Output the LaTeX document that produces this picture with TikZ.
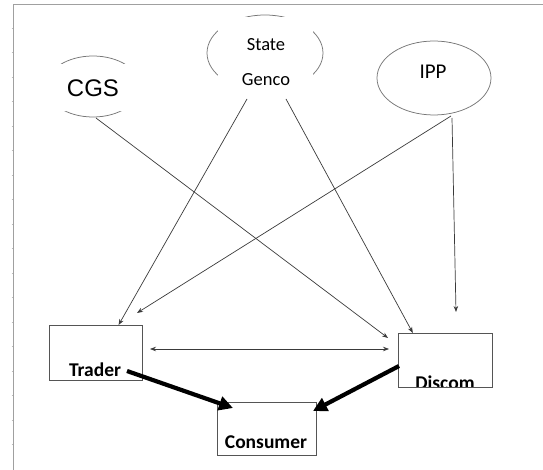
\documentclass[tikz,border=0pt]{standalone}
\usepackage{fontspec}
\setmainfont{Carlito}
\newfontfamily\cgsfont{Liberation Sans}
\usetikzlibrary{arrows.meta,shapes.geometric}
\definecolor{framegray}{HTML}{A0A0A0}
\definecolor{edgegray}{HTML}{555555}
\definecolor{ovalgray}{HTML}{777777}
\definecolor{wiregray}{HTML}{3A3A3A}
\tikzset{
  flowbox/.style={draw=edgegray, line width=0.9pt, fill=white, inner sep=0pt, outer sep=0pt},
  oval/.style={ellipse, draw=ovalgray, line width=0.75pt, inner sep=0pt, outer sep=0pt},
  cover/.style={fill=white, draw=none},
  ovallabel/.style={font=\fontsize{18.5}{20}\selectfont, inner sep=0pt},
  boxlabel/.style={anchor=base, font=\bfseries\fontsize{19.5}{21}\selectfont, inner sep=0pt},
  thinlink/.style={draw=wiregray, line width=0.7pt, -{Stealth[length=6pt,width=4.5pt]}},
  twolink/.style={draw=wiregray, line width=0.7pt, {Stealth[length=6pt,width=4.5pt]}-{Stealth[length=6pt,width=4.5pt]}},
  heavylink/.style={draw=black, line width=4.2pt, -{Triangle[length=14pt,width=14pt]}},
}
\begin{document}
\begin{tikzpicture}[x=1pt,y=-1pt]
\useasboundingbox (0,0) rectangle (543,470);

% page frame with its small ruler ticks
\draw[framegray, line width=1pt] (13,470) -- (13,5) -- (543,5);
\foreach \t in {28,52.5,...,460} \draw[framegray!70, line width=0.4pt] (11.5,\t) -- (13,\t);

% generators: ellipses partly hidden behind their white text boxes
\node[oval, minimum width=94pt, minimum height=61pt] (cgs) at (93,86.5) {};
\fill[cover] (40,64) rectangle (146,111);
\node[font=\cgsfont\fontsize{24}{26}\selectfont, inner sep=0pt] (cgslabel) at (93,88) {CGS};

\node[oval, minimum width=116pt, minimum height=76pt] (genco) at (265,53) {};
\fill[cover] (218,17) rectangle (313,97);
\node[ovallabel] (statelabel) at (266,45) {State};
\node[ovallabel] (gencolabel) at (266,80) {Genco};

\node[oval, minimum width=114pt, minimum height=74pt] (ipp) at (434,78) {};
\node[ovallabel, font=\fontsize{21}{23}\selectfont] (ipplabel) at (433,72) {IPP};

% buyers
\node[flowbox, minimum width=93pt, minimum height=55pt] (trader) at (95.5,352.5) {};
\node[boxlabel] (traderlabel) at (95,376) {Trader};

\node[flowbox, minimum width=94pt, minimum height=54pt] (discom) at (445,360) {};
\begin{scope}
  \clip (398.5,333.5) rectangle (491.5,386.5);
  \node[boxlabel] (discomlabel) at (445,389.5) {Discom};
\end{scope}

\node[flowbox, minimum width=99pt, minimum height=53pt] (consumer) at (266.5,428.5) {};
\node[boxlabel] (consumerlabel) at (266,448) {Consumer};

% connector ends
\coordinate (cgsfoot) at (96,118);
\coordinate (gencofootL) at (247,99);
\coordinate (gencofootR) at (286,99);
\coordinate (ippfoot) at (451,116);
\coordinate (ippfootR) at (452,118);
\coordinate (tradernear) at (137,313);
\coordinate (discomnear) at (388,338);
\coordinate (discomabove) at (456,312);
\coordinate (tradeside) at (150,349);
\coordinate (discomside) at (389,349);
\coordinate (traderout) at (127,371);
\coordinate (discomout) at (399,366);
\coordinate (consumerL) at (233,408);
\coordinate (consumerR) at (313,411);

% supply flows
\draw[thinlink] (cgsfoot) -- (discomnear);
\draw[thinlink] (gencofootL) -- (trader.50.7);
\draw[thinlink] (gencofootR) -- (discom.140.7);
\draw[thinlink] (ippfoot) -- (tradernear);
\draw[thinlink] (ippfootR) -- (discomabove);
\draw[twolink] (tradeside) -- (discomside);

% retail flows
\draw[heavylink] (traderout) -- (consumerL);
\draw[heavylink] (discomout) -- (consumerR);
\end{tikzpicture}
\end{document}
